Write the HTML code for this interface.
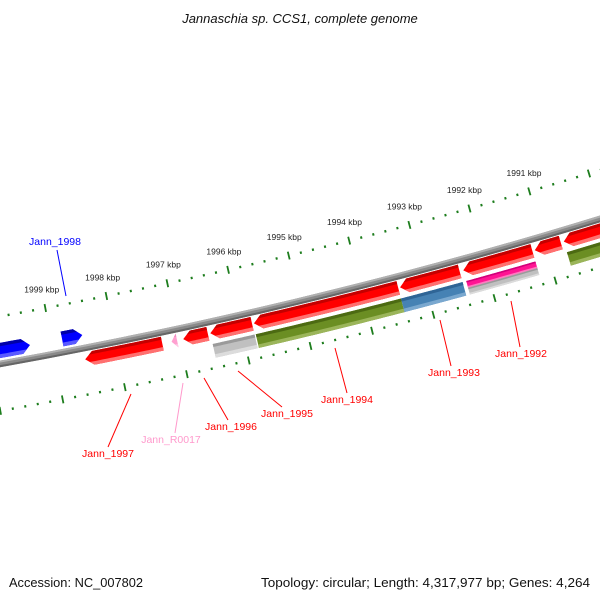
<!DOCTYPE html>
<html><head><meta charset="utf-8"><style>
html,body{margin:0;padding:0;background:#fff;width:600px;height:600px;overflow:hidden}
svg{display:block;font-family:"Liberation Sans","DejaVu Sans",sans-serif}
</style></head><body>
<svg id="map" width="600" height="600" viewBox="0 0 600 600" xmlns="http://www.w3.org/2000/svg">
<text x="300" y="23" text-anchor="middle" font-size="13" font-style="italic" fill="#111">Jannaschia sp. CCS1, complete genome</text>
<text x="9" y="587" font-size="13" fill="#111" textLength="134" lengthAdjust="spacingAndGlyphs">Accession: NC_007802</text>
<text x="590" y="587" text-anchor="end" font-size="13" fill="#111" textLength="329" lengthAdjust="spacingAndGlyphs">Topology: circular; Length: 4,317,977 bp; Genes: 4,264</text>
<g id="layer"></g>
</svg>
<script>
// ---- data ----
const tickLabels = [1999, 1998, 1997, 1996, 1995, 1994, 1993, 1992, 1991];
const fwdNames = ["Jann_1999", "Jann_1998"];
const fwdStart = [2000.6, 1998.83];
const fwdEnd = [1999.35, 1998.50];
const revNames = ["Jann_1997", "Jann_R0017", "Jann_1996", "Jann_1995", "Jann_1994", "Jann_1993", "Jann_1992", "Jann_1991", "Jann_1990"];
const revStart = [1998.53, 1997.13, 1996.94, 1996.50, 1995.79, 1993.40, 1992.36, 1991.18, 1990.70];
const revEnd = [1997.28, 1997.04, 1996.54, 1995.82, 1993.43, 1992.42, 1991.22, 1990.75, 1988.40];
const revColor = ["red", "pink", "red", "red", "red", "red", "red", "red", "red"];
const cogNames = ["Jann_1995", "Jann_1994", "Jann_1993", "Jann_1992", "Jann_1990"];
const cogStart = [1996.50, 1995.80, 1993.43, 1992.36, 1990.70];
const cogEnd = [1995.82, 1993.43, 1992.42, 1991.22, 1988.40];
const cogColor = ["gray", "olive", "steel", "magenta", "olive"];
const labelNames = ["Jann_1998", "Jann_1997", "Jann_R0017", "Jann_1996", "Jann_1995", "Jann_1994", "Jann_1993", "Jann_1992"];
const labelColors = ["#0000ff", "#ff0000", "#ff99cc", "#ff0000", "#ff0000", "#ff0000", "#ff0000", "#ff0000"];

// ---- geometry ----
const CX = -910, CY = -4718;
function phi(k){ return 0.2000 + (1998 - k) * 0.01217; }
function pt(k, r){ const a = phi(k); return [CX + r*Math.sin(a), CY + r*Math.cos(a)]; }
function arcPts(k1, k2, r){ const n = 24, out = []; for (let i=0;i<=n;i++){ const k = k1 + (k2-k1)*i/n; out.push(pt(k,r)); } return out; }
function fmt(p){ return p.map(q=>q[0].toFixed(2)+","+q[1].toFixed(2)).join(" "); }
const NS = "http://www.w3.org/2000/svg";
const layer = document.getElementById("layer");
function poly(points, fill, parent){ const e = document.createElementNS(NS,"polygon"); e.setAttribute("points", fmt(points)); e.setAttribute("fill", fill); (parent||layer).appendChild(e); return e; }
function band(k1,k2,r1,r2){ return arcPts(k1,k2,r1).concat(arcPts(k2,k1,r2)); }
const HK = 0.13;
function arrowPts(kHi, kLo, r1, r2, tipHigh){
  const rm = (r1+r2)/2;
  if (tipHigh){ const b = Math.max(kLo, kHi-HK); return arcPts(kLo,b,r1).concat([pt(kHi,rm)], arcPts(b,kLo,r2)); }
  const b = Math.min(kHi, kLo+HK); return arcPts(kHi,b,r1).concat([pt(kLo,rm)], arcPts(b,kHi,r2));
}
const PAL = {
  red:["#c40000","#ff0000","#ff7070"], blue:["#0000a8","#0000ff","#5a5aff"],
  pink:["#f08cc0","#ffa0d0","#ffc8e4"], olive:["#4c6a12","#6b8e23","#9bb55a"],
  steel:["#2f6596","#4682b4","#7aa8cf"], gray:["#9a9a9a","#c0c0c0","#dcdcdc"],
  magenta:["#d0007a","#ff1493","#ff7ac0"]
};
let clipId = 0;
function shaded(points, k1, k2, r1, r2, pal, name){
  const g = document.createElementNS(NS,"g");
  
  
  layer.appendChild(g);
  const cp = document.createElementNS(NS,"clipPath"); const id = "c"+(clipId++); cp.setAttribute("id", id);
  poly(points, "#000", cp); g.appendChild(cp);
  const inner = document.createElementNS(NS,"g"); inner.setAttribute("clip-path","url(#"+id+")"); g.appendChild(inner);
  const a = Math.max(k1,k2)+0.05, b = Math.min(k1,k2)-0.05, t = (r2-r1);
  poly(band(a,b,r1-1,r2+1), pal[1], inner);
  poly(band(a,b,r1-1,r1+t*0.22), pal[0], inner);
  poly(band(a,b,r2-t*0.25,r2+1), pal[2], inner);
}

// backbone
(function(){
  const g = document.createElementNS(NS,"g");
  
  
  layer.appendChild(g);
  poly(band(2001.5,1987.5,5159.5,5166), "#8a8a8a", g);
  poly(band(2001.5,1987.5,5159.5,5161.5), "#b0b0b0", g);
  poly(band(2001.5,1987.5,5164,5166), "#666", g);
})();

// tick rings
function tickRing(rc, name){
  const g = document.createElementNS(NS,"g");
  
  
  layer.appendChild(g);
  for (let i=0;i<=60;i++){
    const k = 2001 - i*0.2; const major = Math.abs(k-Math.round(k))<1e-6;
    const h = major?4:1.2;
    const p1 = pt(k, rc-h), p2 = pt(k, rc+h);
    const l = document.createElementNS(NS,"line");
    l.setAttribute("x1",p1[0]); l.setAttribute("y1",p1[1]); l.setAttribute("x2",p2[0]); l.setAttribute("y2",p2[1]);
    l.setAttribute("stroke","#1d7d1d"); l.setAttribute("stroke-width", major?1.8:2);
    
    
    g.appendChild(l);
  }
}
tickRing(5116, "outer-tick-ring");
tickRing(5209, "inner-tick-ring");
tickLabels.forEach(k=>{
  const p = pt(k, 5097);
  const t = document.createElementNS(NS,"text");
  t.setAttribute("x", p[0]); t.setAttribute("y", p[1]+3);
  t.setAttribute("text-anchor","middle"); t.setAttribute("font-size","8.5"); t.setAttribute("fill","#222");
  t.textContent = k + " kbp";
  
  
  layer.appendChild(t);
});

// forward genes (pointing to lower kbp)
fwdNames.forEach((n,i)=>{
  shaded(arrowPts(fwdStart[i], fwdEnd[i], 5142, 5157, false), fwdStart[i], fwdEnd[i], 5142, 5157, PAL.blue, "gene-"+n);
});
// reverse genes (pointing to higher kbp)
revNames.forEach((n,i)=>{
  shaded(arrowPts(revStart[i], revEnd[i], 5167, 5181, true), revStart[i], revEnd[i], 5167, 5181, PAL[revColor[i]], "gene-"+n);
});
// COG row
cogNames.forEach((n,i)=>{
  if (cogColor[i]==="magenta"){
    shaded(band(cogStart[i], cogEnd[i], 5185, 5192), cogStart[i], cogEnd[i], 5185, 5192, PAL.magenta, "cog-"+n+"-a");
    shaded(band(cogStart[i], cogEnd[i], 5192, 5199), cogStart[i], cogEnd[i], 5192, 5199, PAL.gray, "cog-"+n+"-b");
  } else {
    shaded(band(cogStart[i], cogEnd[i], 5185, 5199), cogStart[i], cogEnd[i], 5185, 5199, PAL[cogColor[i]], "cog-"+n);
  }
});

// gene labels with leader lines
const labelPos = [[55,245],[108,457],[171,443],[231,430],[287,417],[347,403],[454,376],[521,357]];
const leader = [[66,296,57,250],[131,394,108,447],[183,383,175,433],[204,378,228,420],[238,371,282,407],[335,348,347,393],[440,320,451,366],[511,301,520,347]];
labelNames.forEach((n,i)=>{
  const l = document.createElementNS(NS,"line");
  l.setAttribute("x1",leader[i][0]); l.setAttribute("y1",leader[i][1]); l.setAttribute("x2",leader[i][2]); l.setAttribute("y2",leader[i][3]);
  l.setAttribute("stroke", labelColors[i]); l.setAttribute("stroke-width","1");
  
  
  layer.appendChild(l);
  const t = document.createElementNS(NS,"text");
  t.setAttribute("x", labelPos[i][0]); t.setAttribute("y", labelPos[i][1]);
  t.setAttribute("text-anchor","middle"); t.setAttribute("font-size","10.5"); t.setAttribute("fill", labelColors[i]);
  t.textContent = n;
  
  
  layer.appendChild(t);
});
</script>
</body></html>
